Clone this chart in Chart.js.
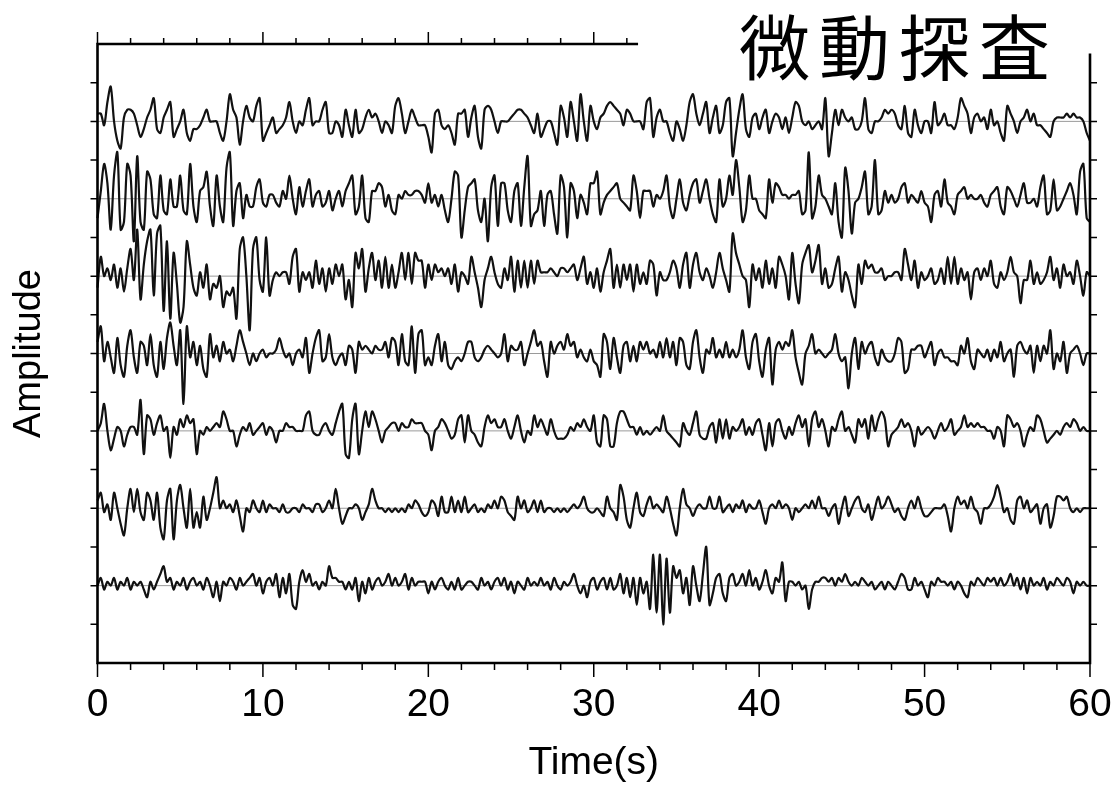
<!DOCTYPE html>
<html>
<head>
<meta charset="utf-8">
<title>微動探査</title>
<script src="https://cdn.jsdelivr.net/npm/chart.js@4.4.1/dist/chart.umd.min.js"></script>
<style>
  html, body { margin: 0; padding: 0; background: #fff; }
  canvas { display: block; }
</style>
</head>
<body>
<canvas id="seisChart" width="1118" height="787"></canvas>
<script>
// amplitudes in tenths of a trace-gap unit, sampled every 0.2 s from 0 to 60 s
const trace1 = [
  2, 2, -1, 5, 9, 0, -5, -7, 1, 3,
  3, 2, -1, -4, -2, 1, 3, 6, -2, -3,
  1, 3, 5, -4, -2, 0, 3, -3, -5, -2,
  -2, -1, 1, 3, 0, 0, 0, -3, -5, 0,
  7, 3, 1, -6, 0, 4, 1, 0, 4, 6,
  -5, -3, -1, 1, -3, -2, -1, 1, 5, 0,
  -3, 0, -1, 3, 6, -1, 0, 0, 3, 5,
  -3, -3, 0, -1, -4, 3, -1, -4, 3, -3,
  -2, 1, 3, 1, 2, 0, -3, 0, -1, -3,
  4, 6, 2, -3, 0, 3, 1, -1, -1, -1,
  -4, -8, 2, 3, -1, -2, -1, -3, -6, 2,
  2, 3, -4, 1, 4, -4, -7, 3, 4, 3,
  0, -3, 0, 0, 0, 1, 2, 3, 3, 2,
  1, -1, -3, 2, -4, -2, 0, 0, -3, -6,
  4, 1, -4, 5, 0, -5, 7, 0, -5, 4,
  0, -2, 1, 2, 4, 5, 4, 3, 2, -1,
  3, 2, 0, 0, 0, -2, 5, 6, -4, 1,
  3, 0, 0, -3, -5, 0, -2, -5, -1, 5,
  7, 2, -1, 2, 5, -3, 1, 4, -3, -1,
  5, 6, -9, -3, 3, 7, -2, -4, 1, 2,
  -2, 1, 3, -3, 0, 2, 1, -2, 1, -3,
  1, 5, 4, 0, -1, 0, -2, -1, 0, -2,
  6, -9, -3, 3, -1, 3, 1, 0, 1, -2,
  -2, 0, 6, -2, -3, 0, 0, 1, 3, 2,
  3, 2, -1, -2, 4, -3, -4, 3, -1, -3,
  0, 0, -3, 5, -1, 0, 2, -1, -1, -2,
  1, 6, 4, 2, -3, 1, 2, 0, 1, -2,
  3, -1, 0, -3, -5, 4, 2, 0, -3, 0,
  1, 3, 0, 2, -1, -1, -2, -3, -4, 0,
  1, 1, 1, 2, 1, 2, 1, 1, 0, -3,
  -5
];
const trace2 = [
  -5, 2, 9, 4, -8, 6, 12, -8, -6, 9,
  6, -11, 11, -6, -8, 7, 5, -4, -5, 6,
  -3, -4, 5, -2, -2, 6, -3, -4, 9, -2,
  -6, 2, 3, 7, -2, -7, 6, -2, -6, 8,
  12, -7, 2, 4, -5, 1, -2, -2, 3, 5,
  -1, -2, 1, 1, -1, -2, 2, 0, 6, 0,
  -4, 3, -2, 2, 5, -2, 1, 2, -2, -1,
  2, -3, 0, 2, -2, 2, 4, 6, -4, -2,
  6, -5, -6, 2, 2, 4, 3, -2, 1, -3,
  -4, 1, 0, 2, 1, 1, 2, 2, 1, -1,
  4, -1, 1, -2, 1, -3, -6, 0, 7, 6,
  -10, -3, 3, 4, 5, -3, -6, 0, -11, 3,
  6, -7, 4, 4, -3, -6, 2, 4, -7, 3,
  11, -7, -4, -3, 2, -7, 1, 2, -4, -9,
  6, 3, -10, 4, 2, -5, 1, -1, -4, 4,
  4, 7, -4, -1, 1, 2, 3, 4, 0, -1,
  -2, -3, 6, 2, -5, 2, 2, 2, -2, 1,
  0, 2, 6, -2, -5, 0, 5, -1, -3, 1,
  4, 5, -1, 2, 5, 0, -4, -6, 5, -2,
  0, 6, 1, 10, 3, -6, -3, 6, 0, 0,
  -3, -4, -5, 5, -1, 4, 3, 1, 1, 0,
  1, 1, 2, -4, -3, 12, -5, -2, 6, 1,
  0, -2, -4, 4, -6, -10, 8, 2, -9, -1,
  0, 3, 7, -4, -2, 10, -4, -3, 2, -1,
  1, -1, 0, 3, 4, -1, 1, 0, -1, 2,
  -1, -2, -6, 1, 2, -2, 5, -1, -2, -4,
  1, 2, 3, 0, 1, 0, 0, 1, -1, -2,
  1, 2, 3, -2, -4, 3, 2, 0, -2, 1,
  4, -1, -1, 0, -2, 3, 6, -4, -3, 5,
  -3, -2, 0, 2, 4, 1, -4, 7, 9, -5,
  -6
];
const trace3 = [
  -3, 5, 0, 2, -1, 3, -3, 2, -4, 2,
  7, -1, 12, -6, 3, 9, 12, -5, 11, 13,
  -9, 9, -11, 6, -2, -12, -8, 9, 3, -3,
  -5, 1, -3, 3, -6, -2, -3, 0, -8, -4,
  -5, -3, -11, 7, 10, 0, -14, 7, 10, -1,
  -4, 10, -5, -1, 1, 0, 1, 1, -2, 5,
  7, -4, 1, -1, 1, -3, 4, -2, 2, -4,
  2, -2, 3, 0, 3, -6, -1, -8, 6, 2,
  7, -4, 2, 6, -1, 4, -3, 5, -3, 3,
  -3, 1, 6, -1, 6, -2, 6, 4, 4, -3,
  3, -1, 3, 1, 2, 0, 2, -2, 3, -4,
  1, 0, -2, 5, 1, -3, -8, -1, 2, 5,
  1, -2, -3, 2, -1, 5, -4, 4, -3, 4,
  -3, 4, -2, 4, 1, 1, 1, 2, 1, 0,
  2, 2, 1, 2, 3, -1, 2, 5, -2, 1,
  -3, 2, -4, 1, 4, 7, -3, 3, -3, 3,
  -1, 3, -4, 3, -2, 1, -2, 4, 3, -5,
  1, -1, -1, 1, 4, 2, -3, 3, 6, -3,
  3, 6, 1, -1, 2, 0, -3, 1, 6, 2,
  -1, -4, 11, 6, 3, 0, -1, -8, 3, -1,
  2, -3, 4, -2, 2, -3, 5, 3, 0, -6,
  6, -2, -7, 3, 6, 8, 1, 4, 8, -2,
  2, -3, -2, 2, 5, -4, 1, -1, -5, -8,
  3, -2, 4, 2, 3, 1, 1, 2, -1, 0,
  0, 1, 1, -1, 7, 3, -1, 4, -3, 1,
  -1, 0, 2, -2, -1, 2, -2, 5, -2, 5,
  -2, 2, -1, 1, -6, 1, 2, -1, 2, 0,
  4, -2, -3, 1, -1, 1, 5, 1, 0, -7,
  -1, -1, 4, -2, 1, -2, -1, 1, 5, -1,
  2, -3, 3, 0, 1, -2, 4, 0, -5, 1,
  0
];
const trace4 = [
  3, 7, -2, 3, -1, -5, 4, -3, -6, 2,
  6, -1, -5, 3, 2, -3, 5, -3, -6, 3,
  -4, 4, 8, 2, -3, 6, -13, 7, -1, 3,
  -3, 2, -4, -6, 5, -1, 2, -2, 3, 0,
  1, -2, 2, 6, 3, 0, -3, 0, -2, 0,
  1, -1, 0, 0, 1, 4, 1, -1, 0, -3,
  0, 1, -1, 4, -5, 0, 4, 6, -2, -1,
  5, -1, -3, -1, 0, -3, 2, 1, -5, 3,
  1, 2, 1, 0, 2, 1, 1, 3, -1, 4,
  3, -3, 5, -2, -3, 7, -5, 5, 6, -3,
  -1, -3, 2, 5, -2, 3, -3, -4, -2, -1,
  -2, 0, 3, 3, -1, -2, -1, 1, 2, 1,
  0, -1, 0, 5, -2, 2, 1, 1, 3, -3,
  0, 3, 6, 2, 3, -2, -6, 3, 0, 2,
  3, 1, 5, 2, 3, -1, 1, -1, -2, 1,
  -2, -3, -6, 5, 3, -4, 4, -1, -5, 2,
  3, -2, 2, -2, 3, 1, 3, 0, 1, -1,
  3, -1, 4, -1, 3, -3, 4, 3, -3, -4,
  3, 6, -1, -5, 1, 0, 4, -1, 1, -1,
  3, -1, 1, -1, 1, 6, -1, -4, 3, 5,
  -2, -6, 1, 4, -8, 1, 3, 1, 3, 2,
  6, -1, -5, -8, 0, 2, 5, 0, 1, 0,
  -1, 0, 1, 5, 0, -2, -1, -9, 0, 4,
  -4, 3, 0, 2, 3, -1, -3, 1, -1, -2,
  -2, 0, 4, 3, -5, -4, 1, 1, 2, 2,
  -1, 1, 3, -3, 0, 1, -1, -1, -2, -2,
  -3, 2, 0, 4, -2, -4, 1, 0, -1, 1,
  -2, 1, -1, 3, -2, 0, 1, -6, 2, 3,
  1, 0, 2, -5, 2, -2, 2, 0, 6, -4,
  0, -2, 3, -5, 0, 1, 2, 0, -3, 0,
  0
];
const trace5 = [
  0, 2, 7, 0, -5, -2, 1, 0, -4, -1,
  1, 1, -1, 8, -6, 4, 3, -1, 2, 4,
  0, 1, -7, 1, -1, 3, 1, 4, 2, 3,
  -6, 0, -1, 1, 0, 1, 2, 1, 5, 3,
  0, 0, -4, -1, 1, 0, 2, -1, 0, 1,
  2, -1, 1, 0, -3, 0, 0, 2, 1, 1,
  0, 0, 0, 4, 5, 0, -1, -1, 1, 2,
  0, -1, 2, 5, 7, -6, -7, 3, 7, -6,
  0, 5, 1, 5, 3, 0, -3, 0, 1, 2,
  2, 0, 2, 1, 1, 3, 2, 2, 2, 0,
  -1, -5, 0, 1, 3, 2, 0, -2, -1, 3,
  4, -3, 4, 0, -1, -3, -4, 1, 4, 2,
  3, 1, 1, 3, 0, -2, 1, 4, 0, -3,
  0, -1, 4, 1, 3, 1, -1, 3, 0, -2,
  -2, -2, -1, 1, 0, 2, 1, 3, 1, 0,
  4, -3, -4, 4, 3, -4, -4, 2, 5, 5,
  3, 1, 1, -1, 1, -1, 0, -1, 0, 1,
  0, 4, 0, -1, -2, -3, -4, 2, 0, -1,
  2, 5, -1, -2, -2, 1, 2, -3, 3, -2,
  3, -2, 1, 0, 1, 3, -1, 1, -1, 2,
  3, -1, -5, 2, -4, 2, 3, 0, -2, 1,
  -1, 2, 4, 1, 3, -4, 3, 5, 1, 3,
  0, -4, 1, 0, 3, 5, 0, 1, -1, -3,
  3, 1, 3, -2, 4, 0, 3, 5, 3, -4,
  -1, 0, 1, 3, 1, 2, 0, -4, 1, -1,
  0, 1, 0, -2, 0, 2, 0, 1, 3, -1,
  0, 1, 4, 1, 2, 1, 2, 1, 1, 0,
  0, -2, 1, 0, -4, 4, 3, 1, 2, 0,
  -4, -1, 1, 0, 4, 3, 0, -3, -2, -1,
  0, -1, 1, 2, 1, 3, 2, 0, 1, 0,
  0
];
const trace6 = [
  2, 4, -1, 1, -3, 4, 0, -4, -7, 0,
  5, -1, 5, -1, -3, 4, 2, -3, 4, -5,
  -8, 2, 5, -8, 2, 6, 0, -5, 5, -5,
  -1, -5, 3, -3, 0, 4, 8, 0, 2, 0,
  1, -1, 2, -2, -6, 0, -1, 2, 0, -1,
  2, -1, 1, 0, 0, -1, 1, -1, -1, 0,
  0, -1, 1, 0, 0, -1, 1, 1, -1, 0,
  2, 0, 5, 0, -4, -2, 0, 0, 1, 0,
  -3, -1, 1, 5, 2, 0, 0, -1, 0, -1,
  0, -1, 0, -1, 1, 0, 2, 1, -1, -2,
  -1, 2, 1, -2, 3, -1, -1, 3, -1, 2,
  -1, 3, -1, 0, 1, -1, 0, -1, 1, 0,
  2, 0, 3, 2, -1, -2, -3, 3, 0, 2,
  -1, 0, 2, -1, 2, -1, 0, 0, -1, 0,
  -1, 0, -1, 0, 1, 0, 1, 3, 0, -1,
  -1, 0, -1, -2, 3, 0, -1, -3, 6, 3,
  -3, -5, 0, 4, -1, -2, 1, 3, 0, 1,
  0, -1, 3, 0, -4, -7, 0, 5, 1, 0,
  -2, 0, 1, 0, 0, 3, 0, 0, 3, -1,
  0, 1, -1, 1, 0, 2, -1, 1, 0, 0,
  2, -1, -4, 0, 1, 0, 2, 0, 1, 0,
  -3, 0, -1, 0, 1, 0, 2, 0, 3, 0,
  0, -2, 0, 1, -4, 0, 3, -2, 0, 2,
  3, 0, -1, 1, -3, 0, 3, 0, 1, 3,
  1, -1, 0, -2, -3, 0, 2, 0, 3, 0,
  -2, -2, -1, 0, 0, 0, 1, -2, -6, 0,
  3, 1, 2, 0, 3, 0, -1, -4, 0, 0,
  1, 3, 6, 3, -1, 0, -3, -4, 2, 3,
  0, 2, -1, 0, 1, -4, 0, 1, -5, -2,
  3, 3, 2, 3, 0, -1, 0, -1, 0, 0,
  0
];
const trace7 = [
  0, 2, -1, 1, 0, 2, -1, 1, 0, 2,
  -1, 1, 0, 1, -1, -3, 1, -1, 1, 3,
  5, 1, 2, -1, 1, 0, 2, -1, 1, 2,
  0, 1, -1, 2, 0, -3, 1, -4, 1, 0,
  2, 1, -1, 2, 0, 1, 2, 3, 0, 2,
  -2, 1, 2, 0, 3, -3, 2, -2, 3, -5,
  -6, 1, 4, 1, 3, 0, 1, -1, 1, 0,
  5, 2, 2, 1, 1, -1, 1, -1, 2, -4,
  1, -2, 2, -1, 1, 2, 0, 1, 3, 0,
  2, 0, 1, 3, -1, 2, 0, 1, 1, 1,
  -2, 1, -1, 1, 2, 0, -1, 1, -1, 2,
  -1, 0, 1, 1, 0, -1, 2, 0, 1, -1,
  1, 2, 0, 2, -1, 1, -2, 1, 0, -1,
  2, 0, 1, 0, 2, 0, 1, -1, 2, 0,
  -1, 1, 0, 1, 3, 0, -2, 0, -3, 1,
  2, -1, 1, 2, -1, 2, -1, 0, 3, -2,
  2, -3, 2, -5, 2, -2, 1, -6, 8, -7,
  8, -10, 7, -7, 5, 2, 4, -2, 2, -5,
  5, 0, -4, 3, 10, -5, -2, 2, 3, -2,
  -4, 2, 3, 0, 1, 3, 0, 4, 0, 2,
  -1, 1, 4, 0, -2, 2, 1, 6, -4, 1,
  1, 0, 1, -1, 0, -6, -1, 1, 1, 2,
  2, 1, 2, 0, 2, 1, 3, 1, 0, 1,
  0, 2, 1, 0, 1, -1, 0, 1, -1, 1,
  0, -1, 1, 3, 2, -1, -1, 2, 0, 1,
  -1, -3, 1, 0, 2, 1, 1, 0, 1, -1,
  1, 0, -2, -3, 1, 0, 2, 1, 0, 2,
  1, 2, 0, 2, 0, 1, 3, 0, 2, -1,
  2, -2, 2, 0, 1, 0, 2, -1, 1, 0,
  2, 1, 0, 2, 1, -2, 1, 0, 1, 0,
  0
];

const traces = [trace1, trace2, trace3, trace4, trace5, trace6, trace7];
const baselines = [14, 12, 10, 8, 6, 4, 2];
const times = trace1.map((_, k) => Math.round(k * 2) / 10);
const xTicksMinor = [0, 2, 4, 6, 8, 10, 12, 14, 16, 18, 20, 22, 24, 26, 28, 30, 32, 34, 36, 38, 40, 42, 44, 46, 48, 50, 52, 54, 56, 58, 60];
const yTicks = [1, 2, 3, 4, 5, 6, 7, 8, 9, 10, 11, 12, 13, 14, 15];
const titleText = '微動探査';

const topLineEnd = 32.6;   // top frame stops under the title
const rightLineTop = 15.72;

const framePlugin = {
    id: 'frame',
    afterDraw(chart) {
        const { ctx, scales: { x, y } } = chart;
        const px = v => x.getPixelForValue(v);
        const py = v => y.getPixelForValue(v);

        ctx.save();
        ctx.strokeStyle = '#000';
        ctx.lineCap = 'square';
        ctx.lineWidth = 2.6;
        ctx.beginPath();
        ctx.moveTo(px(topLineEnd), py(16));
        ctx.lineTo(px(0), py(16));
        ctx.lineTo(px(0), py(0));
        ctx.lineTo(px(60), py(0));
        ctx.lineTo(px(60), py(rightLineTop));
        ctx.stroke();

        ctx.lineWidth = 1.5;
        ctx.lineCap = 'butt';
        ctx.beginPath();
        xTicksMinor.forEach(t => {
            const major = t % 10 === 0;
            ctx.moveTo(px(t), py(0));
            ctx.lineTo(px(t), py(0) + (major ? 14 : 7));
            if (t <= topLineEnd) {
                ctx.moveTo(px(t), py(16));
                ctx.lineTo(px(t), py(16) - (major ? 12 : 6));
            }
        });
        yTicks.forEach(v => {
            ctx.moveTo(px(0), py(v));
            ctx.lineTo(px(0) - 7, py(v));
            ctx.moveTo(px(60), py(v));
            ctx.lineTo(px(60) + 7, py(v));
        });
        ctx.stroke();

        ctx.fillStyle = '#000';
        ctx.font = '71px "Noto Sans CJK JP"';
        ctx.textAlign = 'center';
        ctx.textBaseline = 'alphabetic';
        if ('letterSpacing' in ctx) ctx.letterSpacing = '9px';
        ctx.fillText(titleText, 899, 74);
        ctx.restore();
    }
};

const baselineSets = baselines.map(b => ({
    data: [{ x: 0, y: b }, { x: 60, y: b }],
    borderColor: '#9a9a9a',
    borderWidth: 1,
    pointRadius: 0,
    order: 2
}));

const traceSets = traces.map((vals, i) => ({
    data: vals.map((v, k) => ({ x: times[k], y: baselines[i] + v / 10 })),
    borderColor: '#111',
    borderWidth: 2.2,
    borderJoinStyle: 'round',
    pointRadius: 0,
    tension: 0.3,
    clip: false,
    order: 1
}));

const axisFont = { family: '"Liberation Sans", Arial, sans-serif', size: 39 };

new Chart(document.getElementById('seisChart').getContext('2d'), {
    type: 'line',
    data: { datasets: [...baselineSets, ...traceSets] },
    options: {
        responsive: false,
        animation: false,
        layout: { padding: { top: 44, right: 28, left: 0, bottom: 0 } },
        plugins: { legend: { display: false }, tooltip: { enabled: false } },
        scales: {
            x: {
                type: 'linear',
                min: 0,
                max: 60,
                grid: { display: false, drawTicks: false },
                border: { display: false },
                ticks: { stepSize: 10, color: '#000', font: axisFont, padding: 19, maxRotation: 0 },
                title: { display: true, text: 'Time(s)', color: '#000', font: axisFont, padding: { top: 0, bottom: 0 } },
                afterFit: s => {
                    s.height = 124;
                    s.paddingLeft = 0;
                    s.paddingRight = 0;
                }
            },
            y: {
                type: 'linear',
                min: 0,
                max: 16,
                grid: { display: false, drawTicks: false },
                border: { display: false },
                ticks: { display: false },
                title: { display: true, text: 'Amplitude', color: '#000', font: { family: '"Liberation Sans", Arial, sans-serif', size: 38 }, padding: { top: 7, bottom: 0 } },
                afterFit: s => { s.width = 97.5; }
            }
        }
    },
    plugins: [framePlugin]
});
</script>
</body>
</html>
